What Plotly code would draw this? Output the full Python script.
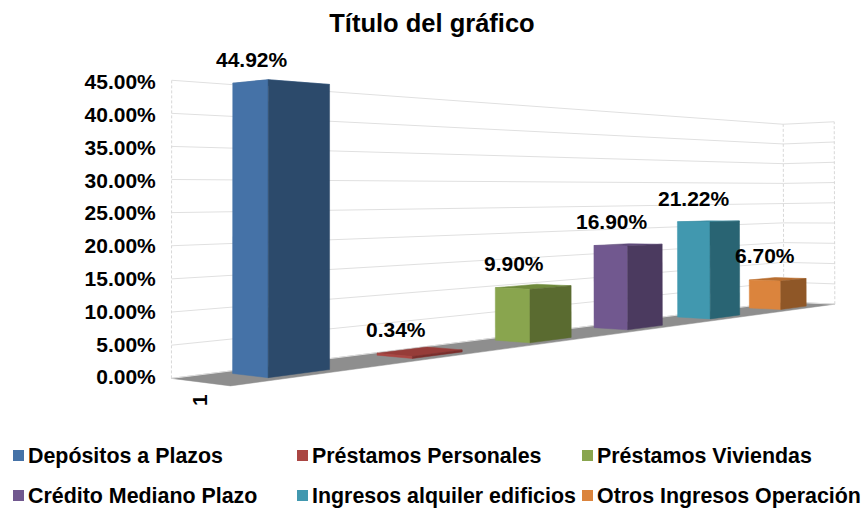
import numpy as np
import plotly.graph_objects as go

# ---------- chart data ----------
categories = ["Depósitos a Plazos", "Préstamos Personales", "Préstamos Viviendas",
              "Crédito Mediano Plazo", "Ingresos alquiler edificios", "Otros Ingresos Operación"]
values = [0.4492, 0.0034, 0.0990, 0.1690, 0.2122, 0.0670]
value_labels = ["44.92%", "0.34%", "9.90%", "16.90%", "21.22%", "6.70%"]
y_ticks = [0.00, 0.05, 0.10, 0.15, 0.20, 0.25, 0.30, 0.35, 0.40, 0.45]
x_tick_label = ["1"]
side_colors = ["#4572A7", "#AA4643", "#89A54E", "#71588F", "#4198AF", "#DB843D"]
front_colors = ["#2C4A6B", "#7A2E2C", "#5A6B30", "#4B3A5F", "#296473", "#8F5727"]
top_colors = ["#3F6797", "#963C39", "#6F8A3C", "#5F4A7A", "#3A8AA0", "#B86E30"]
label_lift = [20, 27, 26, 25, 23, 26]   # label offset above each bar's top corner, in pixels

W, H = 863, 508
FONT = "Liberation Sans, Arial, sans-serif"
Y0_PX, PX_PER_UNIT = 377.0, 655.6   # pixel row of 0 % and pixels per 100 %
ZMAX = 0.45
PLOT_LEFT, PLOT_TOP, PLOT_BOTTOM = 165, 60, 389


def y_of(py):
    return (Y0_PX - py) / PX_PER_UNIT


# ---------- oblique view: solve the picture's 3-D box projection ----------
# (u along category axis 0..1, d depth 0=back..1=front, z value) -> (x axis, y axis)
view = [
    (0, 0, 0, 173, 377), (0, 0, ZMAX, 172, 80),
    (1, 0, 0, 783, 303), (1, 0, ZMAX, 783, 124),
    (1, 1, 0, 835, 303), (1, 1, ZMAX, 835, 122),
    (0, 1, 0, 230, 387),
    (0.05, 0.8, 0, 268, 378), (0.05, 0.8, 0.4492, 267, 80),
]
rows = []
for u, d, z, px, py in view:
    X = [u, d, z / ZMAX, 1]
    v = y_of(py) * 10
    rows.append(X + [0, 0, 0, 0] + [-px / 500 * c for c in X])
    rows.append([0, 0, 0, 0] + X + [-v * c for c in X])
M = np.linalg.svd(np.array(rows, float))[2][-1].reshape(3, 4)


def project(u, d, z):
    h = M @ np.array([u, d, z / ZMAX, 1.0])
    return h[0] / h[2] * 500, h[1] / h[2] / 10


def polygon(points):
    xy = [project(*p) for p in points]
    xy.append(xy[0])
    return [a for a, _ in xy], [b for _, b in xy]


fig = go.Figure()

# floor
fx, fy = polygon([(0, 0, 0), (1, 0, 0), (1, 1, 0), (0, 1, 0)])
fig.add_trace(go.Scatter(x=fx, y=fy, fill="toself", mode="lines", fillcolor="#8E8E8E",
                         line=dict(color="#8E8E8E", width=0.5), hoverinfo="skip", showlegend=False))

# gridlines on the back and right walls
gx, gy = [], []
for t in y_ticks:
    for p in [(0, 0, t), (1, 0, t), (1, 1, t)]:
        a, b = project(*p)
        gx.append(a)
        gy.append(b)
    gx.append(None)
    gy.append(None)
fig.add_trace(go.Scatter(x=gx, y=gy, mode="lines", line=dict(color="#E0E0E0", width=1),
                         hoverinfo="skip", showlegend=False))
vx, vy = [], []
for u, d in [(0, 0), (1, 0), (1, 1)]:
    for t in (0, y_ticks[-1]):
        a, b = project(u, d, t)
        vx.append(a)
        vy.append(b)
    vx.append(None)
    vy.append(None)
fig.add_trace(go.Scatter(x=vx, y=vy, mode="lines",
                         line=dict(color="#D8D8D8", width=1, dash="3px,2px"),
                         hoverinfo="skip", showlegend=False))

# bars, farthest first
D_FRONT, D_BACK = 0.8, 0.2
n = len(values)
for i in reversed(range(n)):
    v = values[i]
    u0, u1 = (i + 0.3) / n, (i + 0.7) / n
    top = polygon([(u0, D_BACK, v), (u1, D_BACK, v), (u1, D_FRONT, v), (u0, D_FRONT, v)])
    side = polygon([(u0, D_BACK, 0), (u0, D_FRONT, 0), (u0, D_FRONT, v), (u0, D_BACK, v)])
    front = polygon([(u0, D_FRONT, 0), (u1, D_FRONT, 0), (u1, D_FRONT, v), (u0, D_FRONT, v)])
    for (px, py), col in ((top, top_colors[i]), (side, side_colors[i]), (front, front_colors[i])):
        fig.add_trace(go.Scatter(x=px, y=py, fill="toself", mode="lines", fillcolor=col,
                                 line=dict(color=col, width=0.5), name=categories[i],
                                 hoverinfo="skip", showlegend=False))

# data labels
annotations = []
for i, (v, lab) in enumerate(zip(values, value_labels)):
    ax, ay = project((i + 0.3) / n, D_FRONT, v)
    annotations.append(dict(x=ax, y=ay, xref="x", yref="y", text=f"<b>{lab}</b>", showarrow=False,
                            xshift=-16, yshift=label_lift[i], font=dict(size=21, color="#000000", family=FONT)))

# legend
shapes = []
col_x = [13, 297, 582]
row_y = [455.5, 495.5]
PW, PH = W - PLOT_LEFT, PLOT_BOTTOM - PLOT_TOP
for i, name in enumerate(categories):
    lx, ly = col_x[i % 3], row_y[i // 3]
    shapes.append(dict(type="rect", xref="paper", yref="paper", layer="above",
                       x0=(lx - PLOT_LEFT) / PW, x1=(lx + 11 - PLOT_LEFT) / PW,
                       y0=(PLOT_BOTTOM - ly - 5.5) / PH, y1=(PLOT_BOTTOM - ly + 5.5) / PH,
                       fillcolor=side_colors[i], line=dict(width=0)))
    annotations.append(dict(xref="paper", yref="paper", x=(lx + 13 - PLOT_LEFT) / PW,
                            y=(PLOT_BOTTOM - ly) / PH, xanchor="left", yanchor="middle", showarrow=False,
                            text=f"<b>{name}</b>", font=dict(size=21.4, color="#000000", family=FONT)))

x_tick_pos = [project(0, 0.5, 0)[0]]

fig.update_layout(
    width=W, height=H, autosize=False,
    paper_bgcolor="#FFFFFF", plot_bgcolor="rgba(0,0,0,0)",
    margin=dict(l=PLOT_LEFT, r=0, t=PLOT_TOP, b=H - PLOT_BOTTOM, pad=0),
    font=dict(family=FONT, color="#000000"),
    showlegend=False,
    title=dict(text="<b>Título del gráfico</b>", x=432 / W, xanchor="center", y=1 - 23 / H, yanchor="middle",
               font=dict(size=25.5, family=FONT, color="#000000")),
    xaxis=dict(range=[PLOT_LEFT, W], tickmode="array", tickvals=x_tick_pos, ticktext=x_tick_label, tickangle=-90,
               showgrid=False, zeroline=False, showline=False, ticks="",
               tickfont=dict(size=21, family=FONT, weight="bold"), fixedrange=True),
    yaxis=dict(range=[y_of(PLOT_BOTTOM), y_of(PLOT_TOP)], tickmode="array", tickvals=y_ticks, tickformat=".2%",
               showgrid=False, zeroline=False, showline=False, ticks="outside", ticklen=4,
               tickcolor="rgba(0,0,0,0)", tickfont=dict(size=21, family=FONT, weight="bold"), fixedrange=True),
    annotations=annotations,
    shapes=shapes,
)
fig.write_html("out.html", post_script="document.body.style.margin='0';",
               config={"displayModeBar": False})
